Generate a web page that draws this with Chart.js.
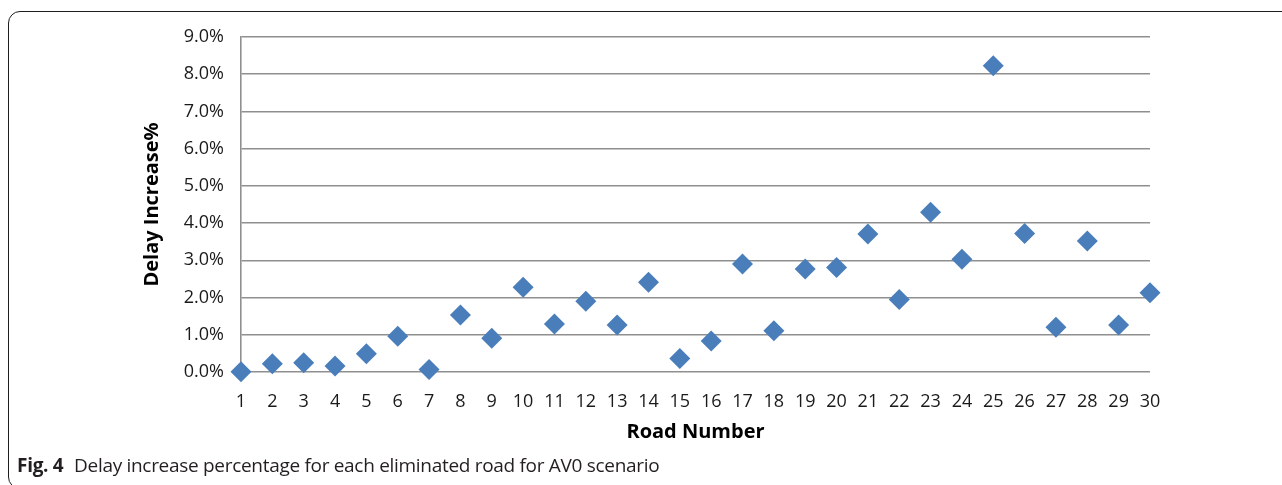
<!DOCTYPE html>
<html>
<head>
<meta charset="utf-8">
<title>Delay increase per eliminated road</title>
<script src="https://cdn.jsdelivr.net/npm/chart.js@4.4.1/dist/chart.umd.min.js"></script>
<style>
  html, body { margin: 0; padding: 0; background: #fff; }
  #wrap { position: relative; width: 1282px; height: 485px; overflow: hidden; }
  #frame {
    position: absolute; left: 8px; top: 11px; width: 1300px; height: 478px;
    border: 1.3px solid #1e1e1e; border-radius: 12px; box-sizing: border-box;
  }
  #delayChart { position: absolute; left: 0; top: 0; }
  #caption {
    position: absolute; left: 17px; top: 452px; margin: 0;
    font-family: "Open Sans", sans-serif; font-size: 19px; letter-spacing: -0.3px;
    color: #231f20; white-space: nowrap;
  }
  #caption b { font-weight: 700; margin-right: 6px; }
</style>
</head>
<body>
<div id="wrap">
  <div id="frame"></div>
  <canvas id="delayChart" width="1282" height="485"></canvas>
  <p id="caption"><b>Fig. 4</b> Delay increase percentage for each eliminated road for AV0 scenario</p>
</div>
<script>
// road numbers on the x axis
const roads = ["1", "2", "3", "4", "5", "6", "7", "8", "9", "10",
  "11", "12", "13", "14", "15", "16", "17", "18", "19", "20",
  "21", "22", "23", "24", "25", "26", "27", "28", "29", "30"];

// delay increase (%) after removing each road, AV0 scenario
const delayIncrease = [0.01, 0.22, 0.25, 0.16, 0.49, 0.96, 0.07, 1.53, 0.91, 2.28,
  1.29, 1.90, 1.26, 2.41, 0.36, 0.83, 2.90, 1.11, 2.77, 2.81,
  3.71, 1.95, 4.29, 3.03, 8.23, 3.72, 1.20, 3.52, 1.26, 2.13];

// y axis range in percent
const yMin = 0;
const yMax = 9;
const yStep = 1;

const FONT = "'Open Sans', sans-serif";
const GRID = "#8f8f8f";

const ctx = document.getElementById("delayChart").getContext("2d");

new Chart(ctx, {
  type: "line",
  data: {
    labels: roads,
    datasets: [{
      label: "Delay Increase%",
      data: delayIncrease,
      showLine: false,
      pointStyle: "rectRot",
      pointRadius: 10.5,
      pointHoverRadius: 10.5,
      pointBackgroundColor: "#4a7ebb",
      pointBorderColor: "#4a7ebb",
      pointBorderWidth: 0,
      clip: false
    }]
  },
  options: {
    responsive: false,
    animation: false,
    devicePixelRatio: 1,
    layout: { padding: { left: 140, top: 37, right: 132, bottom: 40 } },
    plugins: {
      legend: { display: false },
      tooltip: { enabled: false }
    },
    scales: {
      x: {
        type: "category",
        offset: false,
        grid: { display: false, drawTicks: false },
        border: { display: false },
        ticks: {
          color: "#1a1a1a",
          font: { family: FONT, size: 18 },
          padding: 19,
          maxRotation: 0,
          autoSkip: false
        },
        title: {
          display: true,
          text: "Road Number",
          color: "#000",
          font: { family: FONT, size: 20, weight: "bold" },
          padding: { top: 0, bottom: 1 }
        },
        afterFit: (scale) => { scale.height = 73; }
      },
      y: {
        min: yMin,
        max: yMax,
        grid: { color: GRID, lineWidth: 1.6, drawTicks: false },
        border: { display: true, color: GRID, width: 1.6 },
        ticks: {
          stepSize: yStep,
          color: "#1a1a1a",
          font: { family: FONT, size: 18 },
          padding: 17,
          callback: (v) => v.toFixed(1) + "%"
        },
        title: {
          display: true,
          text: "Delay Increase%",
          color: "#000",
          font: { family: FONT, size: 20, weight: "bold" },
          padding: { top: 0, bottom: 0 }
        },
        afterFit: (scale) => { scale.width = 101; }
      }
    }
  }
});
</script>
</body>
</html>
